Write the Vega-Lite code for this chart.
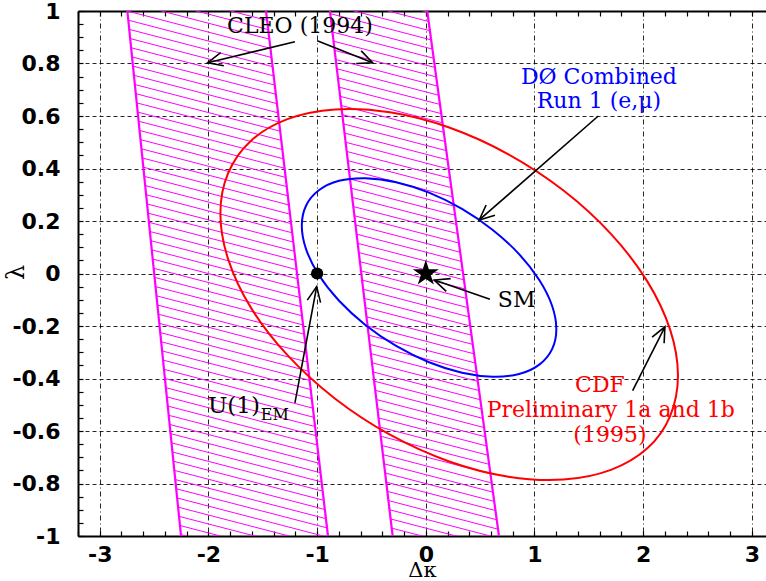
{
 "$schema": "https://vega.github.io/schema/vega-lite/v6.json",
 "width": 688,
 "height": 525,
 "autosize": "none",
 "padding": {"left": 78, "top": 11, "right": 0, "bottom": 45},
 "config": {
  "view": {"stroke": null},
  "axis": {"domainColor": "black", "domainWidth": 2, "tickColor": "black", "tickWidth": 1.2, "tickSize": -5,
   "labelFont": "DejaVu Sans", "labelFontWeight": "bold", "labelFontSize": 22, "labelColor": "black",
   "labelFlush": false, "labelOverlap": false, "labelBound": false,
   "gridColor": "black", "gridWidth": 1,
   "titleColor": "black", "titleFont": "DejaVu Serif", "titleFontWeight": "normal", "titleFontSize": 21}
 },
 "datasets": {
  "hatch": [
   {"x":-2.781,"y":1.140,"x2":-1.470,"y2":0.999},{"x":-2.772,"y":1.105,"x2":-1.460,"y2":0.964},{"x":-2.763,"y":1.070,"x2":-1.450,"y2":0.929},{"x":-2.755,"y":1.035,"x2":-1.440,"y2":0.893},
   {"x":-2.746,"y":1.000,"x2":-1.430,"y2":0.858},{"x":-2.737,"y":0.965,"x2":-1.420,"y2":0.823},{"x":-2.729,"y":0.930,"x2":-1.410,"y2":0.788},{"x":-2.720,"y":0.895,"x2":-1.400,"y2":0.753},
   {"x":-2.711,"y":0.860,"x2":-1.390,"y2":0.718},{"x":-2.703,"y":0.825,"x2":-1.380,"y2":0.683},{"x":-2.694,"y":0.790,"x2":-1.369,"y2":0.647},{"x":-2.685,"y":0.755,"x2":-1.359,"y2":0.612},
   {"x":-2.677,"y":0.720,"x2":-1.349,"y2":0.577},{"x":-2.668,"y":0.685,"x2":-1.339,"y2":0.542},{"x":-2.660,"y":0.650,"x2":-1.329,"y2":0.507},{"x":-2.651,"y":0.615,"x2":-1.319,"y2":0.472},
   {"x":-2.642,"y":0.580,"x2":-1.309,"y2":0.437},{"x":-2.634,"y":0.545,"x2":-1.299,"y2":0.401},{"x":-2.625,"y":0.510,"x2":-1.289,"y2":0.366},{"x":-2.616,"y":0.475,"x2":-1.279,"y2":0.331},
   {"x":-2.608,"y":0.440,"x2":-1.269,"y2":0.296},{"x":-2.599,"y":0.405,"x2":-1.259,"y2":0.261},{"x":-2.590,"y":0.370,"x2":-1.249,"y2":0.226},{"x":-2.582,"y":0.335,"x2":-1.239,"y2":0.190},
   {"x":-2.573,"y":0.300,"x2":-1.229,"y2":0.155},{"x":-2.564,"y":0.265,"x2":-1.219,"y2":0.120},{"x":-2.556,"y":0.230,"x2":-1.209,"y2":0.085},{"x":-2.547,"y":0.195,"x2":-1.199,"y2":0.050},
   {"x":-2.539,"y":0.160,"x2":-1.189,"y2":0.015},{"x":-2.530,"y":0.125,"x2":-1.179,"y2":-0.020},{"x":-2.521,"y":0.090,"x2":-1.169,"y2":-0.056},{"x":-2.513,"y":0.055,"x2":-1.159,"y2":-0.091},
   {"x":-2.504,"y":0.020,"x2":-1.149,"y2":-0.126},{"x":-2.495,"y":-0.015,"x2":-1.139,"y2":-0.161},{"x":-2.487,"y":-0.050,"x2":-1.129,"y2":-0.196},{"x":-2.478,"y":-0.085,"x2":-1.119,"y2":-0.231},
   {"x":-2.469,"y":-0.120,"x2":-1.109,"y2":-0.266},{"x":-2.461,"y":-0.155,"x2":-1.099,"y2":-0.302},{"x":-2.452,"y":-0.190,"x2":-1.089,"y2":-0.337},{"x":-2.443,"y":-0.225,"x2":-1.079,"y2":-0.372},
   {"x":-2.435,"y":-0.260,"x2":-1.069,"y2":-0.407},{"x":-2.426,"y":-0.295,"x2":-1.059,"y2":-0.442},{"x":-2.417,"y":-0.330,"x2":-1.049,"y2":-0.477},{"x":-2.409,"y":-0.365,"x2":-1.039,"y2":-0.513},
   {"x":-2.400,"y":-0.400,"x2":-1.029,"y2":-0.548},{"x":-2.392,"y":-0.435,"x2":-1.019,"y2":-0.583},{"x":-2.383,"y":-0.470,"x2":-1.009,"y2":-0.618},{"x":-2.374,"y":-0.505,"x2":-0.999,"y2":-0.653},
   {"x":-2.366,"y":-0.540,"x2":-0.989,"y2":-0.688},{"x":-2.357,"y":-0.575,"x2":-0.979,"y2":-0.723},{"x":-2.348,"y":-0.610,"x2":-0.969,"y2":-0.759},{"x":-2.340,"y":-0.645,"x2":-0.959,"y2":-0.794},
   {"x":-2.331,"y":-0.680,"x2":-0.949,"y2":-0.829},{"x":-2.322,"y":-0.715,"x2":-0.939,"y2":-0.864},{"x":-2.314,"y":-0.750,"x2":-0.929,"y2":-0.899},{"x":-2.305,"y":-0.785,"x2":-0.919,"y2":-0.934},
   {"x":-2.296,"y":-0.820,"x2":-0.909,"y2":-0.969},{"x":-2.288,"y":-0.855,"x2":-0.899,"y2":-1.005},{"x":-2.279,"y":-0.890,"x2":-0.888,"y2":-1.040},{"x":-2.271,"y":-0.925,"x2":-0.878,"y2":-1.075},
   {"x":-2.262,"y":-0.960,"x2":-0.868,"y2":-1.110},{"x":-2.253,"y":-0.995,"x2":-0.858,"y2":-1.145},
   {"x":-0.909,"y":1.095,"x2":0.014,"y2":0.996},{"x":-0.899,"y":1.060,"x2":0.026,"y2":0.960},{"x":-0.889,"y":1.025,"x2":0.038,"y2":0.925},{"x":-0.879,"y":0.990,"x2":0.049,"y2":0.890},
   {"x":-0.869,"y":0.955,"x2":0.061,"y2":0.855},{"x":-0.859,"y":0.920,"x2":0.073,"y2":0.820},{"x":-0.849,"y":0.885,"x2":0.084,"y2":0.785},{"x":-0.839,"y":0.850,"x2":0.096,"y2":0.749},
   {"x":-0.829,"y":0.815,"x2":0.107,"y2":0.714},{"x":-0.819,"y":0.780,"x2":0.119,"y2":0.679},{"x":-0.808,"y":0.745,"x2":0.131,"y2":0.644},{"x":-0.798,"y":0.710,"x2":0.142,"y2":0.609},
   {"x":-0.788,"y":0.675,"x2":0.154,"y2":0.574},{"x":-0.778,"y":0.640,"x2":0.165,"y2":0.538},{"x":-0.768,"y":0.605,"x2":0.177,"y2":0.503},{"x":-0.758,"y":0.570,"x2":0.189,"y2":0.468},
   {"x":-0.748,"y":0.535,"x2":0.200,"y2":0.433},{"x":-0.738,"y":0.500,"x2":0.212,"y2":0.398},{"x":-0.728,"y":0.465,"x2":0.223,"y2":0.363},{"x":-0.718,"y":0.430,"x2":0.235,"y2":0.327},
   {"x":-0.707,"y":0.395,"x2":0.247,"y2":0.292},{"x":-0.697,"y":0.360,"x2":0.258,"y2":0.257},{"x":-0.687,"y":0.325,"x2":0.270,"y2":0.222},{"x":-0.677,"y":0.290,"x2":0.281,"y2":0.187},
   {"x":-0.667,"y":0.255,"x2":0.293,"y2":0.152},{"x":-0.657,"y":0.220,"x2":0.305,"y2":0.116},{"x":-0.647,"y":0.185,"x2":0.316,"y2":0.081},{"x":-0.637,"y":0.150,"x2":0.328,"y2":0.046},
   {"x":-0.627,"y":0.115,"x2":0.339,"y2":0.011},{"x":-0.617,"y":0.080,"x2":0.351,"y2":-0.024},{"x":-0.606,"y":0.045,"x2":0.363,"y2":-0.059},{"x":-0.596,"y":0.010,"x2":0.374,"y2":-0.095},
   {"x":-0.586,"y":-0.025,"x2":0.386,"y2":-0.130},{"x":-0.576,"y":-0.060,"x2":0.397,"y2":-0.165},{"x":-0.566,"y":-0.095,"x2":0.409,"y2":-0.200},{"x":-0.556,"y":-0.130,"x2":0.421,"y2":-0.235},
   {"x":-0.546,"y":-0.165,"x2":0.432,"y2":-0.270},{"x":-0.536,"y":-0.200,"x2":0.444,"y2":-0.306},{"x":-0.526,"y":-0.235,"x2":0.455,"y2":-0.341},{"x":-0.516,"y":-0.270,"x2":0.467,"y2":-0.376},
   {"x":-0.506,"y":-0.305,"x2":0.479,"y2":-0.411},{"x":-0.495,"y":-0.340,"x2":0.490,"y2":-0.446},{"x":-0.485,"y":-0.375,"x2":0.502,"y2":-0.481},{"x":-0.475,"y":-0.410,"x2":0.513,"y2":-0.516},
   {"x":-0.465,"y":-0.445,"x2":0.525,"y2":-0.552},{"x":-0.455,"y":-0.480,"x2":0.537,"y2":-0.587},{"x":-0.445,"y":-0.515,"x2":0.548,"y2":-0.622},{"x":-0.435,"y":-0.550,"x2":0.560,"y2":-0.657},
   {"x":-0.425,"y":-0.585,"x2":0.571,"y2":-0.692},{"x":-0.415,"y":-0.620,"x2":0.583,"y2":-0.727},{"x":-0.405,"y":-0.655,"x2":0.595,"y2":-0.763},{"x":-0.394,"y":-0.690,"x2":0.606,"y2":-0.798},
   {"x":-0.384,"y":-0.725,"x2":0.618,"y2":-0.833},{"x":-0.374,"y":-0.760,"x2":0.629,"y2":-0.868},{"x":-0.364,"y":-0.795,"x2":0.641,"y2":-0.903},{"x":-0.354,"y":-0.830,"x2":0.653,"y2":-0.938},
   {"x":-0.344,"y":-0.865,"x2":0.664,"y2":-0.974},{"x":-0.334,"y":-0.900,"x2":0.676,"y2":-1.009},{"x":-0.324,"y":-0.935,"x2":0.687,"y2":-1.044},{"x":-0.314,"y":-0.970,"x2":0.699,"y2":-1.079}
  ],
  "bands": [
   {"x":-2.746,"y":1,"x2":-2.252,"y2":-1},{"x":-1.470,"y":1,"x2":-0.900,"y2":-1},
   {"x":-0.882,"y":1,"x2":-0.305,"y2":-1},{"x":0.013,"y":1,"x2":0.673,"y2":-1}
  ],
  "ellipses": [
   {"c":"#0000ff","i":0,"x":1.201,"y":-0.212},{"c":"#0000ff","i":1,"x":1.161,"y":-0.122},{"c":"#0000ff","i":2,"x":1.044,"y":-0.025},{"c":"#0000ff","i":3,"x":0.858,"y":0.074},
   {"c":"#0000ff","i":4,"x":0.616,"y":0.166},{"c":"#0000ff","i":5,"x":0.333,"y":0.246},{"c":"#0000ff","i":6,"x":0.030,"y":0.308},{"c":"#0000ff","i":7,"x":-0.273,"y":0.348},
   {"c":"#0000ff","i":8,"x":-0.556,"y":0.363},{"c":"#0000ff","i":9,"x":-0.798,"y":0.353},{"c":"#0000ff","i":10,"x":-0.984,"y":0.317},{"c":"#0000ff","i":11,"x":-1.101,"y":0.259},
   {"c":"#0000ff","i":12,"x":-1.141,"y":0.182},{"c":"#0000ff","i":13,"x":-1.101,"y":0.092},{"c":"#0000ff","i":14,"x":-0.984,"y":-0.006},{"c":"#0000ff","i":15,"x":-0.798,"y":-0.104},
   {"c":"#0000ff","i":16,"x":-0.556,"y":-0.196},{"c":"#0000ff","i":17,"x":-0.273,"y":-0.276},{"c":"#0000ff","i":18,"x":0.030,"y":-0.338},{"c":"#0000ff","i":19,"x":0.333,"y":-0.378},
   {"c":"#0000ff","i":20,"x":0.616,"y":-0.393},{"c":"#0000ff","i":21,"x":0.858,"y":-0.383},{"c":"#0000ff","i":22,"x":1.044,"y":-0.347},{"c":"#0000ff","i":23,"x":1.161,"y":-0.289},
   {"c":"#ff0000","i":0,"x":2.320,"y":-0.389},{"c":"#ff0000","i":1,"x":2.248,"y":-0.214},{"c":"#ff0000","i":2,"x":2.038,"y":-0.030},{"c":"#ff0000","i":3,"x":1.703,"y":0.151},
   {"c":"#ff0000","i":4,"x":1.267,"y":0.316},{"c":"#ff0000","i":5,"x":0.760,"y":0.454},{"c":"#ff0000","i":6,"x":0.215,"y":0.556},{"c":"#ff0000","i":7,"x":-0.330,"y":0.614},
   {"c":"#ff0000","i":8,"x":-0.837,"y":0.625},{"c":"#ff0000","i":9,"x":-1.273,"y":0.588},{"c":"#ff0000","i":10,"x":-1.608,"y":0.506},{"c":"#ff0000","i":11,"x":-1.818,"y":0.383},
   {"c":"#ff0000","i":12,"x":-1.890,"y":0.229},{"c":"#ff0000","i":13,"x":-1.818,"y":0.054},{"c":"#ff0000","i":14,"x":-1.608,"y":-0.131},{"c":"#ff0000","i":15,"x":-1.273,"y":-0.311},
   {"c":"#ff0000","i":16,"x":-0.837,"y":-0.476},{"c":"#ff0000","i":17,"x":-0.330,"y":-0.614},{"c":"#ff0000","i":18,"x":0.215,"y":-0.716},{"c":"#ff0000","i":19,"x":0.760,"y":-0.774},
   {"c":"#ff0000","i":20,"x":1.267,"y":-0.785},{"c":"#ff0000","i":21,"x":1.703,"y":-0.748},{"c":"#ff0000","i":22,"x":2.038,"y":-0.666},{"c":"#ff0000","i":23,"x":2.248,"y":-0.543}
  ],
  "arrows": [
   {"x":-1.204,"y":0.883,"x2":-2.007,"y2":0.803},
   {"x":-0.999,"y":0.887,"x2":-0.489,"y2":0.803},
   {"x":1.587,"y":0.600,"x2":0.492,"y2":0.204},
   {"x":0.590,"y":-0.098,"x2":0.078,"y2":-0.025},
   {"x":-1.204,"y":-0.493,"x2":-1.004,"y2":-0.050},
   {"x":1.903,"y":-0.4465,"x2":2.200,"y2":-0.203}
  ],
  "heads": [
   {"x":-2.007,"y":0.803,"ang":-103.5},
   {"x":-0.489,"y":0.803,"ang":111.7},
   {"x":0.492,"y":0.204,"ang":-131.2},
   {"x":0.078,"y":-0.025,"ang":-70.9},
   {"x":-1.004,"y":-0.050,"ang":10.6},
   {"x":2.200,"y":-0.203,"ang":27.0}
  ],
  "labels": [
   {"t":"CLEO (1994)","x":-1.158,"y":0.916,"c":"black"},
   {"t":"DØ Combined","x":1.593,"y":0.721,"c":"#0000ff"},
   {"t":"Run 1 (e,μ)","x":1.593,"y":0.630,"c":"#0000ff"},
   {"t":"SM","x":0.836,"y":-0.129,"c":"black"},
   {"t":"CDF","x":1.602,"y":-0.450,"c":"#ff0000"},
   {"t":"Preliminary 1a and 1b","x":1.702,"y":-0.5455,"c":"#ff0000"},
   {"t":"(1995)","x":1.694,"y":-0.642,"c":"#ff0000"}
  ]
 },
 "layer": [
  {
   "encoding": {
    "x": {"field": "x", "type": "quantitative", "scale": {"domain": [-3.2, 3.13], "nice": false, "zero": false},
     "axis": {"orient": "bottom",
      "values": [-3.2,-3,-2.8,-2.6,-2.4,-2.2,-2,-1.8,-1.6,-1.4,-1.2,-1,-0.8,-0.6,-0.4,-0.2,0,0.2,0.4,0.6,0.8,1,1.2,1.4,1.6,1.8,2,2.2,2.4,2.6,2.8,3],
      "labelExpr": "abs(datum.value - round(datum.value)) < 0.001 ? '' + round(datum.value) : ''",
      "labelPadding": 13,
      "grid": true, "gridDash": [5, 3, 1, 3],
      "gridOpacity": {"condition": {"test": "abs(datum.value - round(datum.value)) > 0.001", "value": 0}, "value": 0.85},
      "title": "Δκ", "titleY": 44, "titleBaseline": "bottom"}},
    "y": {"field": "y", "type": "quantitative", "scale": {"domain": [-1, 1], "nice": false, "zero": false},
     "axis": {"orient": "left",
      "values": [-1,-0.95,-0.9,-0.85,-0.8,-0.75,-0.7,-0.65,-0.6,-0.55,-0.5,-0.45,-0.4,-0.35,-0.3,-0.25,-0.2,-0.15,-0.1,-0.05,0,0.05,0.1,0.15,0.2,0.25,0.3,0.35,0.4,0.45,0.5,0.55,0.6,0.65,0.7,0.75,0.8,0.85,0.9,0.95,1],
      "labelExpr": "abs(datum.value*5 - round(datum.value*5)) < 0.001 ? '' + datum.value : ''",
      "labelPadding": 23,
      "grid": true, "gridDash": [4, 3],
      "gridOpacity": {"condition": {"test": "abs(datum.value*5 - round(datum.value*5)) > 0.001", "value": 0}, "value": 0.85},
      "title": "λ", "titleFontSize": 24, "titleX": -62, "titleY": 261, "titleAngle": 270, "titleAlign": "center", "titleBaseline": "middle"}}
   },
   "layer": [
    {"data": {"name": "hatch"}, "mark": {"type": "rule", "color": "#ff00ff", "strokeWidth": 1, "clip": true},
     "encoding": {"x2": {"field": "x2"}, "y2": {"field": "y2"}}},
    {"data": {"name": "bands"}, "mark": {"type": "rule", "color": "#ff00ff", "strokeWidth": 2.2, "clip": true},
     "encoding": {"x2": {"field": "x2"}, "y2": {"field": "y2"}}},
    {"data": {"name": "ellipses"}, "mark": {"type": "line", "interpolate": "cardinal-closed", "strokeWidth": 2},
     "encoding": {"color": {"field": "c", "type": "nominal", "scale": null}, "order": {"field": "i"}}},
    {"data": {"name": "arrows"}, "mark": {"type": "rule", "color": "black", "strokeWidth": 1.6},
     "encoding": {"x2": {"field": "x2"}, "y2": {"field": "y2"}}},
    {"data": {"name": "heads"}, "mark": {"type": "point", "shape": "M-0.45,1L0,0L0.45,1", "filled": false, "stroke": "black", "strokeWidth": 1.6, "size": 900, "opacity": 1},
     "encoding": {"angle": {"field": "ang", "type": "quantitative", "scale": null}}},
    {"data": {"values": [{"x": -1, "y": 0}]}, "mark": {"type": "circle", "color": "black", "size": 150, "opacity": 1}},
    {"data": {"values": [{"x": 0, "y": 0}]}, "mark": {"type": "point", "shape": "M0,-1L0.2234,-0.3074L0.951,-0.309L0.3614,0.1174L0.588,0.809L0,0.38L-0.588,0.809L-0.3614,0.1174L-0.951,-0.309L-0.2234,-0.3074Z", "filled": true, "color": "black", "size": 750, "opacity": 1}},
    {"data": {"name": "labels"}, "mark": {"type": "text", "font": "DejaVu Serif", "fontSize": 22, "align": "center", "baseline": "alphabetic"},
     "encoding": {"text": {"field": "t"}, "color": {"field": "c", "type": "nominal", "scale": null}}},
    {"data": {"values": [{"x": -1.526, "y": -0.533, "t": "U(1)"}]}, "mark": {"type": "text", "font": "DejaVu Serif", "fontSize": 23, "align": "right", "baseline": "alphabetic", "color": "black"},
     "encoding": {"text": {"field": "t"}}},
    {"data": {"values": [{"x": -1.518, "y": -0.558, "t": "EM"}]}, "mark": {"type": "text", "font": "DejaVu Serif", "fontSize": 16, "align": "left", "baseline": "alphabetic", "color": "black"},
     "encoding": {"text": {"field": "t"}}}
   ]
  },
  {
   "data": {"values": [{"x": 0}]},
   "mark": {"type": "point", "opacity": 0},
   "encoding": {
    "x": {"field": "x", "type": "quantitative", "scale": {"domain": [-3.2, 3.13], "nice": false, "zero": false},
     "axis": {"orient": "top",
      "values": [-3.2,-3,-2.8,-2.6,-2.4,-2.2,-2,-1.8,-1.6,-1.4,-1.2,-1,-0.8,-0.6,-0.4,-0.2,0,0.2,0.4,0.6,0.8,1,1.2,1.4,1.6,1.8,2,2.2,2.4,2.6,2.8,3],
      "labels": false, "grid": false, "title": null}}
   }
  }
 ],
 "resolve": {"axis": {"x": "independent"}}
}
